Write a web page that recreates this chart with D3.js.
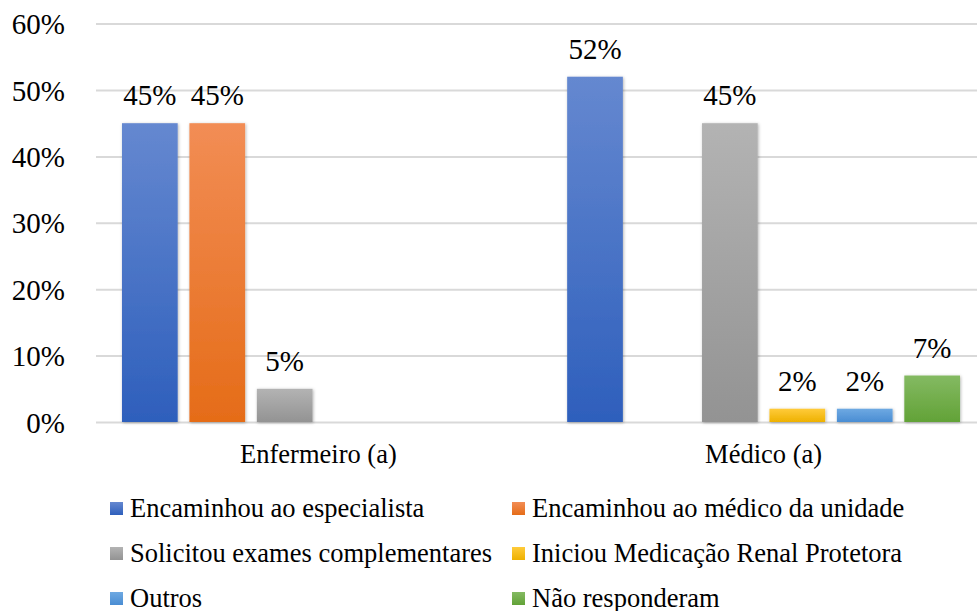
<!DOCTYPE html>
<html>
<head>
<meta charset="utf-8">
<script src="https://cdn.jsdelivr.net/npm/d3@7"></script>
<style>
  html, body { margin: 0; padding: 0; background: #fff; }
  svg { display: block; }
</style>
</head>
<body>
<svg id="chart" width="977" height="611"></svg>
<script>
// Professional groups on the x axis
const categories = ["Enfermeiro (a)", "Médico (a)"];

// Conduct reported by each group (share of respondents)
const seriesNames = [
  "Encaminhou ao especialista",
  "Encaminhou ao médico da unidade",
  "Solicitou exames complementares",
  "Iniciou Medicação Renal Protetora",
  "Outros",
  "Não responderam"
];
const enfermeiroValues = [0.45, 0.45, 0.05, 0, 0, 0];
const medicoValues     = [0.52, 0, 0.45, 0.02, 0.02, 0.07];

const yTicks = [0, 0.1, 0.2, 0.3, 0.4, 0.5, 0.6];

// Bar fill: light at the top, darker at the bottom
const seriesColors = [
  ["#6588d0", "#2e5fbc"],
  ["#f28d55", "#e56c18"],
  ["#b3b3b3", "#939393"],
  ["#ffcb3a", "#eeb100"],
  ["#6ea9e2", "#4a8dd3"],
  ["#84ba62", "#62a237"]
];

const FONT = "Liberation Serif";

const valuesByGroup = [enfermeiroValues, medicoValues];
const rows = categories.map((c, i) => ({
  category: c,
  values: seriesNames.map((s, j) => ({ series: s, idx: j, value: valuesByGroup[i][j] }))
}));

const svg = d3.select("#chart");
const plotLeft = 96, plotRight = 986;
const y = d3.scaleLinear().domain([0, 0.6]).range([422, 23.6]);

const x0 = d3.scaleBand()
  .domain(categories)
  .range([plotLeft, plotRight])
  .paddingInner(0.0912)
  .paddingOuter(0.0452);

const x1 = d3.scaleBand()
  .domain(seriesNames)
  .range([0, x0.bandwidth()])
  .paddingInner(0.174)
  .paddingOuter(0.087);

const defs = svg.append("defs");
seriesColors.forEach((c, i) => {
  const g = defs.append("linearGradient")
    .attr("id", "grad" + i)
    .attr("x1", 0).attr("y1", 0).attr("x2", 0).attr("y2", 1);
  g.append("stop").attr("offset", "0%").attr("stop-color", c[0]);
  g.append("stop").attr("offset", "100%").attr("stop-color", c[1]);
});
const f = defs.append("filter").attr("id", "shadow")
  .attr("x", "-20%").attr("y", "-20%").attr("width", "140%").attr("height", "140%");
f.append("feDropShadow")
  .attr("dx", 0.8).attr("dy", 0.8)
  .attr("stdDeviation", 1.8)
  .attr("flood-color", "#000")
  .attr("flood-opacity", 0.3);

// Horizontal gridlines and percentage labels
const yAxis = d3.axisLeft(y)
  .tickValues(yTicks)
  .tickFormat(d3.format(".0%"))
  .tickSize(-(plotRight - plotLeft))
  .tickPadding(31);

const gy = svg.append("g")
  .attr("transform", `translate(${plotLeft},0)`)
  .call(yAxis)
  .attr("font-family", null)
  .attr("font-size", null);
gy.select(".domain").remove();
gy.selectAll(".tick line")
  .attr("stroke", "#d9d9d9")
  .attr("stroke-width", 2);
gy.selectAll(".tick text")
  .attr("fill", "#000")
  .attr("dy", "0.35em")
  .style("font-family", FONT)
  .style("font-size", "29px");

// Bars
const groups = svg.append("g").selectAll("g.group")
  .data(rows)
  .join("g")
  .attr("class", "group")
  .attr("transform", d => `translate(${x0(d.category)},0)`);

const visible = d => d.values.filter(v => v.value > 0);

groups.selectAll("rect")
  .data(visible)
  .join("rect")
  .attr("x", d => x1(d.series))
  .attr("y", d => y(d.value))
  .attr("width", x1.bandwidth())
  .attr("height", d => y(0) - y(d.value))
  .attr("fill", d => `url(#grad${d.idx})`)
  .attr("filter", "url(#shadow)");

// Value labels above bars
groups.selectAll("text.value")
  .data(visible)
  .join("text")
  .attr("class", "value")
  .attr("x", d => x1(d.series) + x1.bandwidth() / 2)
  .attr("y", d => y(d.value) - 18)
  .attr("text-anchor", "middle")
  .attr("fill", "#000")
  .style("font-family", FONT)
  .style("font-size", "29px")
  .text(d => d3.format(".0%")(d.value));

// Category labels
svg.append("g").selectAll("text")
  .data(categories)
  .join("text")
  .attr("x", d => x0(d) + x0.bandwidth() / 2)
  .attr("y", 463)
  .attr("text-anchor", "middle")
  .attr("fill", "#000")
  .style("font-family", FONT)
  .style("font-size", "26.5px")
  .text(d => d);

// Legend: two columns, three rows
const legendCols = [110, 512];
const legendRows = [508.5, 553.5, 598.5];
const legend = svg.append("g").selectAll("g")
  .data(seriesNames)
  .join("g")
  .attr("transform", (d, i) => `translate(${legendCols[i % 2]},${legendRows[Math.floor(i / 2)]})`);

legend.append("rect")
  .attr("x", 0).attr("y", -6.5)
  .attr("width", 13).attr("height", 13)
  .attr("fill", (d, i) => `url(#grad${i})`);

legend.append("text")
  .attr("x", 20)
  .attr("y", 0)
  .attr("dy", "0.33em")
  .attr("fill", "#000")
  .style("font-family", FONT)
  .style("font-size", "26.5px")
  .text(d => d);
</script>
</body>
</html>
